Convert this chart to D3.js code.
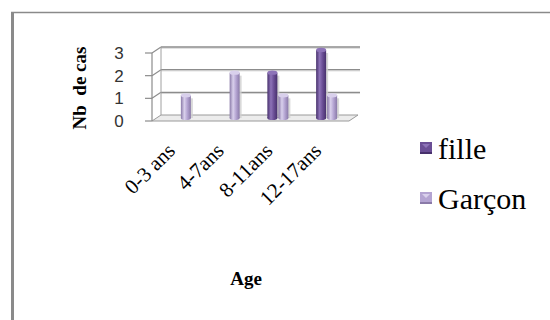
<!DOCTYPE html>
<html>
<head>
<meta charset="utf-8">
<script src="https://cdn.jsdelivr.net/npm/d3@7"></script>
</head>
<body style="margin:0;background:#fff">
<svg id="chart" width="550" height="320" style="display:block"></svg>
<script>
// Cases by age group and sex
const categories = ["0-3 ans", "4-7ans", "8-11ans", "12-17ans"];
const seriesNames = ["fille", "Garçon"];
const fille = [0, 0, 2, 3];
const garcon = [1, 2, 1, 1];
const yTicks = [0, 1, 2, 3];
const yTitle = "Nb\u00a0\u00a0de cas";
const xTitle = "Age";

const SERIF = '"Liberation Serif"';
const SANS = '"Liberation Sans"';

const values = { "fille": fille, "Garçon": garcon };
const palette = {
  "fille":  { base: "#6a4e95", light: "#8d73b8", dark: "#47306c" },
  "Garçon": { base: "#b4a4d2", light: "#d9d0ec", dark: "#8a7aa8" }
};

const svg = d3.select("#chart");
const defs = svg.append("defs");

// frame
svg.append("rect").attr("x", 11).attr("y", 12).attr("width", 3).attr("height", 308).attr("fill", "#8a8a8a");
svg.append("line").attr("x1", 11).attr("x2", 550).attr("y1", 12.5).attr("y2", 12.5)
  .attr("stroke", "#8a8a8a").attr("stroke-width", 1.5);

// 3D plot geometry
const x0 = 152, x1 = 349, dx = 9, dy = -6;
const y = d3.scaleLinear().domain([0, 3]).range([121, 53]);
const xBand = d3.scaleBand().domain(categories).range([156, 351]);
const xInner = d3.scaleBand().domain(seriesNames).range([-11, 11]);

// floor
svg.append("polygon")
  .attr("points", [[x0, y(0)], [x1, y(0)], [x1 + dx, y(0) + dy], [x0 + dx, y(0) + dy]].map(p => p.join(",")).join(" "))
  .attr("fill", "#ececec").attr("stroke", "#9a9a9a").attr("stroke-width", 1);

// back wall gridlines (with faint shadow) and side wall
const grid = svg.append("g");
yTicks.filter(v => v > 0).forEach(v => {
  grid.append("line").attr("x1", x0 + dx).attr("x2", x1 + dx + 2)
    .attr("y1", y(v) + dy + 1.2).attr("y2", y(v) + dy + 1.2)
    .attr("stroke", "#d4d4d4").attr("stroke-width", 1);
  grid.append("line").attr("x1", x0 + dx).attr("x2", x1 + dx + 2)
    .attr("y1", y(v) + dy).attr("y2", y(v) + dy)
    .attr("stroke", "#8c8c8c").attr("stroke-width", 1.3);
  grid.append("line").attr("x1", x0).attr("x2", x0 + dx)
    .attr("y1", y(v)).attr("y2", y(v) + dy)
    .attr("stroke", "#8c8c8c").attr("stroke-width", 1.2);
});
grid.append("line").attr("x1", x0 + dx).attr("x2", x0 + dx)
  .attr("y1", y(3) + dy).attr("y2", y(0) + dy).attr("stroke", "#a0a0a0").attr("stroke-width", 1);
grid.append("line").attr("x1", x0).attr("x2", x0)
  .attr("y1", y(3)).attr("y2", y(0)).attr("stroke", "#8c8c8c").attr("stroke-width", 1.2);

// y ticks and labels
const yAxis = svg.append("g");
yTicks.forEach(v => {
  yAxis.append("line").attr("x1", x0 - 7).attr("x2", x0).attr("y1", y(v)).attr("y2", y(v))
    .attr("stroke", "#8c8c8c").attr("stroke-width", 1.2);
  yAxis.append("text").attr("x", 119).attr("y", y(v)).attr("dy", "0.36em")
    .attr("text-anchor", "middle")
    .style("font-family", SANS).style("font-size", "17px")
    .attr("fill", "#333").text(v);
});

// cylinder gradients
seriesNames.forEach((s, i) => {
  const c = palette[s];
  const g = defs.append("linearGradient").attr("id", "cyl" + i).attr("x1", 0).attr("x2", 1).attr("y1", 0).attr("y2", 0);
  g.append("stop").attr("offset", "0%").attr("stop-color", c.dark);
  g.append("stop").attr("offset", "35%").attr("stop-color", c.light);
  g.append("stop").attr("offset", "65%").attr("stop-color", c.base);
  g.append("stop").attr("offset", "100%").attr("stop-color", c.dark);
});

// bars as cylinders, drawn at mid depth
const bw = 10, midDy = dy / 2;
const bars = svg.append("g");
seriesNames.forEach((s, i) => {
  values[s].forEach((v, k) => {
    if (v <= 0) return;
    const cx = xBand(categories[k]) + xBand.bandwidth() / 2 + xInner(s) + xInner.bandwidth() / 2;
    const top = y(v) + midDy, base = y(0) + midDy;
    bars.append("rect").attr("x", cx + bw / 2 - 1).attr("y", top + 3).attr("width", 3).attr("height", base - top - 3)
      .attr("fill", "#cfcfcf").attr("opacity", 0.8);
    bars.append("ellipse").attr("cx", cx).attr("cy", base).attr("rx", bw / 2).attr("ry", 2)
      .attr("fill", `url(#cyl${i})`);
    bars.append("rect").attr("x", cx - bw / 2).attr("y", top).attr("width", bw).attr("height", base - top)
      .attr("fill", `url(#cyl${i})`);
    bars.append("ellipse").attr("cx", cx).attr("cy", top).attr("rx", bw / 2).attr("ry", 2.2)
      .attr("fill", palette[s].light);
  });
});

// category labels
const xl = svg.append("g");
categories.forEach(c => {
  const cx = xBand(c) + xBand.bandwidth() / 2;
  xl.append("text")
    .attr("transform", `translate(${cx - 4},${152}) rotate(-45)`)
    .attr("text-anchor", "end")
    .style("font-family", SERIF).style("font-size", "21px")
    .attr("fill", "#000").text(c);
});

// axis titles
svg.append("text")
  .attr("transform", "translate(86,88) rotate(-90)")
  .attr("text-anchor", "middle")
  .style("font-family", SERIF).style("font-weight", "bold").style("font-size", "19px")
  .attr("fill", "#000").text(yTitle);
svg.append("text").attr("x", 246).attr("y", 285).attr("text-anchor", "middle")
  .style("font-family", SERIF).style("font-weight", "bold").style("font-size", "19px")
  .attr("fill", "#000").text(xTitle);

// legend
const legend = svg.append("g");
seriesNames.forEach((s, i) => {
  const ly = 148 + i * 50;
  const c = palette[s];
  legend.append("rect").attr("x", 420).attr("y", ly - 6).attr("width", 12).attr("height", 12).attr("fill", c.base);
  legend.append("path").attr("d", `M${422},${ly - 4}L${430},${ly - 4}L${426},${ly}Z`).attr("fill", c.light);
  legend.append("rect").attr("x", 420).attr("y", ly + 4).attr("width", 12).attr("height", 2).attr("fill", c.dark);
  legend.append("text").attr("x", 438).attr("y", ly).attr("dy", "0.35em")
    .style("font-family", SERIF).style("font-size", "30px")
    .attr("fill", "#000").text(s);
});
</script>
</body>
</html>
